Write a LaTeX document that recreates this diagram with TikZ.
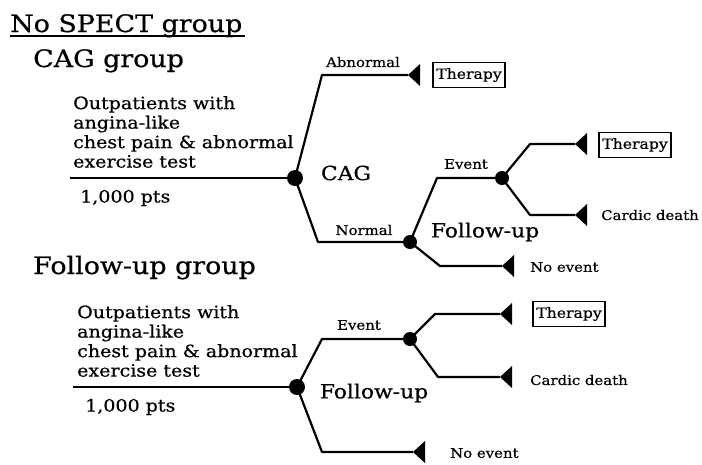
\documentclass[tikz,border=0pt]{standalone}
\usepackage{fontspec}
\setmainfont[FakeStretch=1.12, FakeBold=0.6]{DejaVu Serif}
\begin{document}
\begin{tikzpicture}[x=1pt,y=-1pt,
  br/.style={line width=2.2pt, line join=round},
  bigdot/.style={circle, fill=black, inner sep=0pt, minimum size=16pt},
  smalldot/.style={circle, fill=black, inner sep=0pt, minimum size=14pt},
  ttl/.style={anchor=base west, inner sep=0pt, font=\fontsize{24}{28}\selectfont},
  pat/.style={anchor=north west, inner sep=0pt, align=left, font=\fontsize{17}{19.5}\selectfont},
  pts/.style={anchor=west, inner sep=0pt, font=\fontsize{17}{19}\selectfont},
  mid/.style={inner sep=0pt, font=\fontsize{19.5}{22}\selectfont},
  lbl/.style={inner sep=0pt, font=\fontsize{13.3}{16}\selectfont},
  tbox/.style={draw, line width=1.3pt, inner sep=0pt, minimum width=72pt, minimum height=25pt, font=\fontsize{14}{16}\selectfont},
]
\useasboundingbox (0,0) rectangle (702,464);
\newcommand{\tipflag}[1]{\fill (#1) -- ++(12,-11) -- ++(0,22) -- cycle;}

% ---- titles
\node[ttl] (t0) at (10,32) {No SPECT group};
\draw[line width=1.3pt] (t0.base west) ++(0,4) -- ++(235,0);
\node[ttl] (t1) at (33,67) {CAG group};
\node[ttl] (t2) at (33,274) {Follow-up group};

% ---- top tree
\node[pat] (p1) at (73,96) {Outpatients with\\angina-like\\chest pain \& abnormal\\exercise test};
\node[pts] (n1) at (80,198) {1,000 pts};
\coordinate (s1) at (70,178);
\node[bigdot] (A) at (295,178) {};
\coordinate (A1) at (322,75);
\coordinate (tA) at (408,75);
\coordinate (A2) at (318,242);
\node[smalldot] (B) at (410,242) {};
\coordinate (B1) at (437,178);
\node[smalldot] (C) at (502,178) {};
\coordinate (B2) at (440,266);
\coordinate (tB) at (502,266);
\coordinate (C1) at (530,144);
\coordinate (tC1) at (575,144);
\coordinate (C2) at (530,215);
\coordinate (tC2) at (575,215);

\draw[br] (s1) -- (A.center);
\draw[br] (A.center) -- (A1) -- (tA);
\draw[br] (A.center) -- (A2) -- (B.center);
\draw[br] (B.center) -- (B1) -- (C.center);
\draw[br] (B.center) -- (B2) -- (tB);
\draw[br] (C.center) -- (C1) -- (tC1);
\draw[br] (C.center) -- (C2) -- (tC2);
\tipflag{tA}\tipflag{tB}\tipflag{tC1}\tipflag{tC2}

\node[lbl] (lab1) at (363,62) {Abnormal};
\node[lbl] (lab2) at (364,230) {Normal};
\node[mid] (cag) at (346,173) {CAG};
\node[lbl] (lab3) at (466,164) {Event};
\node[mid] (fu1) at (485,232) {Follow-up};
\node[tbox] (th1) at (469,75) {Therapy};
\node[tbox] (th2) at (635,145) {Therapy};
\node[lbl, anchor=west] (cd1) at (601,215) {Cardic death};
\node[lbl, anchor=west] (ne1) at (530,267) {No event};

% ---- bottom tree
\node[pat] (p2) at (77,305) {Outpatients with\\angina-like\\chest pain \& abnormal\\exercise test};
\node[pts] (n2) at (85,407) {1,000 pts};
\coordinate (s2) at (73,387);
\node[bigdot] (D) at (297,387) {};
\coordinate (D1) at (322,339);
\node[smalldot] (E) at (410,339) {};
\coordinate (D2) at (322,452);
\coordinate (tD) at (413,452);
\coordinate (E1) at (435,314);
\coordinate (tE1) at (500,314);
\coordinate (E2) at (438,377);
\coordinate (tE2) at (500,377);

\draw[br] (s2) -- (D.center);
\draw[br] (D.center) -- (D1) -- (E.center);
\draw[br] (D.center) -- (D2) -- (tD);
\draw[br] (E.center) -- (E1) -- (tE1);
\draw[br] (E.center) -- (E2) -- (tE2);
\tipflag{tD}\tipflag{tE1}\tipflag{tE2}

\node[lbl] (lab4) at (359,325) {Event};
\node[mid] (fu2) at (374,393) {Follow-up};
\node[tbox] (th3) at (569,314) {Therapy};
\node[lbl, anchor=west] (cd2) at (530,380) {Cardic death};
\node[lbl, anchor=west] (ne2) at (450,453) {No event};
\end{tikzpicture}
\end{document}
